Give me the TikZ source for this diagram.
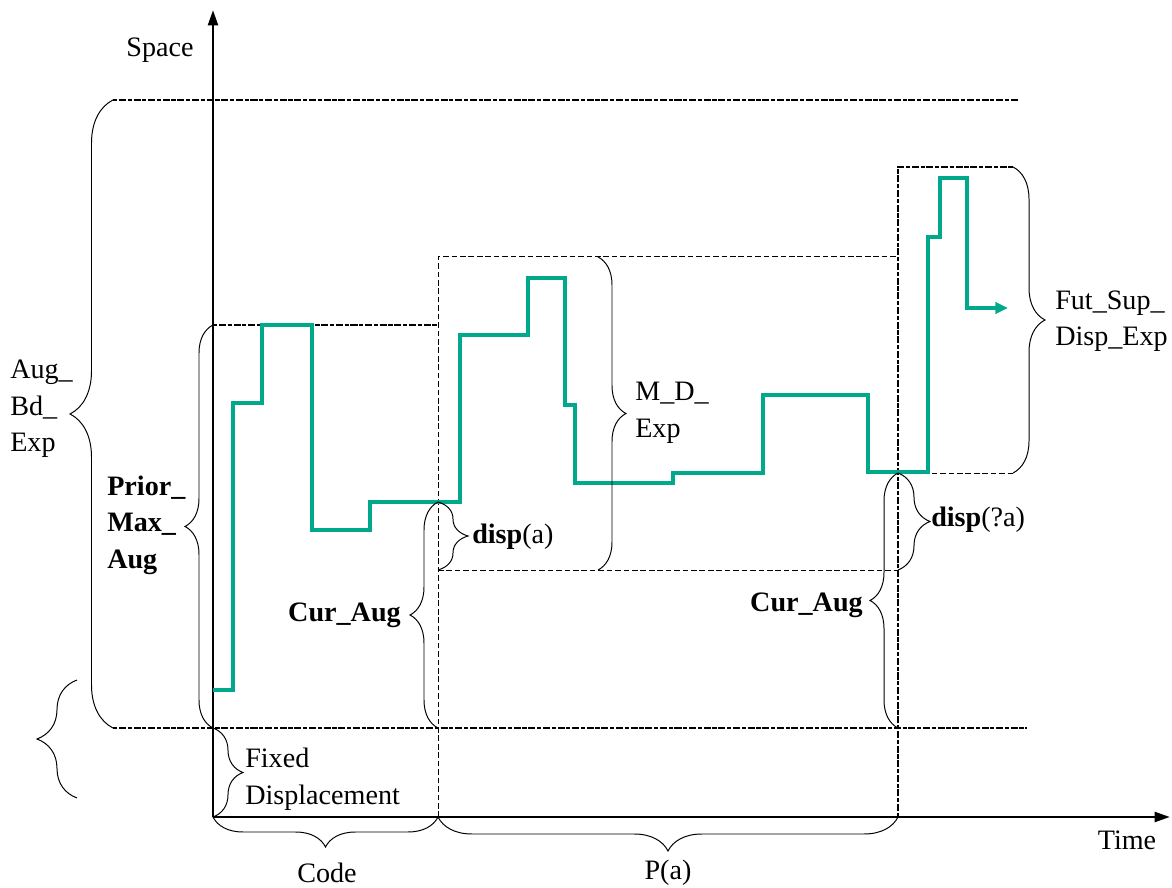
\documentclass[tikz,border=0pt]{standalone}
\usepackage{fontspec}
\setmainfont{Liberation Serif}
\usepackage{tikz}
\usetikzlibrary{arrows.meta,positioning,decorations.pathreplacing}
\definecolor{trace}{RGB}{0,168,140}

\begin{document}
\begin{tikzpicture}[
  every node/.style={font=\fontsize{20}{26}\selectfont, inner sep=0pt},
  boldtxt/.style={font=\fontsize{20}{26}\selectfont\bfseries},
  axisline/.style={-{Triangle[length=11pt,width=7pt]}, line width=2pt},
  bound/.style={line width=1.6pt, dash pattern=on 3pt off 1.2pt on 5pt off 1.2pt},
  boxline/.style={line width=0.7pt, dash pattern=on 4pt off 2pt},
  brc/.style={decorate, decoration={brace, amplitude=#1}, line width=0.7pt},
  brc/.default=0.7cm,
]
\useasboundingbox (-5.325,-1.775) rectangle (23.975,20.425);

% ---- Axes ----
\draw[axisline] (0,0) -- (0,20.175);
\draw[axisline] (0,0) -- (23.925,0);
\node (space) at (-1.325,19.175) {Space};
\node (time) at (22.85,-0.575) {Time};

% ---- Bounds and boxes ----
\draw[bound] (-2.5,17.925) -- (20.125,17.925);
\draw[bound] (-2.5,2.225) -- (20.35,2.225);
\draw[bound] (0,12.3) -- (5.625,12.3);
\draw[boxline] (5.625,0) -- (5.625,14.0) -- (17.125,14.0);
\draw[boxline] (5.625,6.175) -- (17.125,6.175);
\draw[bound] (17.125,0) -- (17.125,16.25) -- (20.0,16.25);
\draw[boxline] (17.125,8.6) -- (20.0,8.6);

% ---- Trace ----
\draw[trace, line width=2.2pt, -{Triangle[length=9pt,width=8pt]}]
  (0,3.175) -- (0.5,3.175) -- (0.5,10.35) -- (1.225,10.35) -- (1.225,12.3)
  -- (2.475,12.3) -- (2.475,7.175) -- (3.925,7.175) -- (3.925,7.875)
  -- (6.175,7.875) -- (6.175,12.05) -- (7.875,12.05) -- (7.875,13.475)
  -- (8.8,13.475) -- (8.8,10.3) -- (9.05,10.3) -- (9.05,8.35)
  -- (11.5,8.35) -- (11.5,8.6) -- (13.75,8.6) -- (13.75,10.55)
  -- (16.375,10.55) -- (16.375,8.625) -- (17.875,8.625) -- (17.875,14.5)
  -- (18.175,14.5) -- (18.175,15.975) -- (18.85,15.975) -- (18.85,12.725)
  -- (19.875,12.725);

% ---- Braces, left side ----
\draw[brc=1.075cm] (-2.5,2.225) -- (-2.5,17.925);
\node[anchor=west, align=left] (augbd) at (-5.075,10.2) {Aug\_\\Bd\_\\Exp};

\draw[brc=1cm] (-3.4,0.475) -- (-3.4,3.425);

\draw[brc] (0,2.225) -- (0,12.3);
\node[boldtxt, anchor=west, align=left] (priormax) at (-2.65,7.3) {Prior\_\\Max\_\\Aug};

% ---- Braces, middle ----
\draw[brc] (5.625,2.225) -- (5.625,7.875);
\node[boldtxt, anchor=east] (cur1) at (4.7,5.05) {Cur\_Aug};

\draw[brc=0.75cm] (5.625,7.875) -- (5.625,6.175);
\node[anchor=west] (dispa) at (6.475,7.0) {\textbf{disp}(a)};

\draw[brc] (9.625,14.0) -- (9.625,6.175);
\node[anchor=west, align=left] (mdexp) at (10.55,10.1) {M\_D\_\\Exp};

% ---- Braces, right side ----
\draw[brc] (17.125,2.225) -- (17.125,8.6);
\node[boldtxt, anchor=east] (cur2) at (16.25,5.3) {Cur\_Aug};

\draw[brc=0.8cm] (17.125,8.6) -- (17.125,6.175);
\node[anchor=west] (dispqa) at (17.95,7.425) {\textbf{disp}(?a)};

\draw[brc=0.8cm] (20.0,16.25) -- (20.0,8.6);
\node[anchor=west, align=left] (futsup) at (21.05,12.4) {Fut\_Sup\_\\Disp\_Exp};

% ---- Braces below the time axis ----
\draw[brc=0.75cm] (0,2.225) -- (0,0);
\node[anchor=west, align=left] (fixed) at (0.8,0.95) {Fixed\\Displacement};

\draw[brc=0.75cm] (5.625,0) -- (0,0);
\node (code) at (2.85,-1.4) {Code};

\draw[brc=0.85cm] (17.125,0) -- (5.625,0);
\node (pa) at (11.375,-1.4) {P(a)};

\end{tikzpicture}
\end{document}
